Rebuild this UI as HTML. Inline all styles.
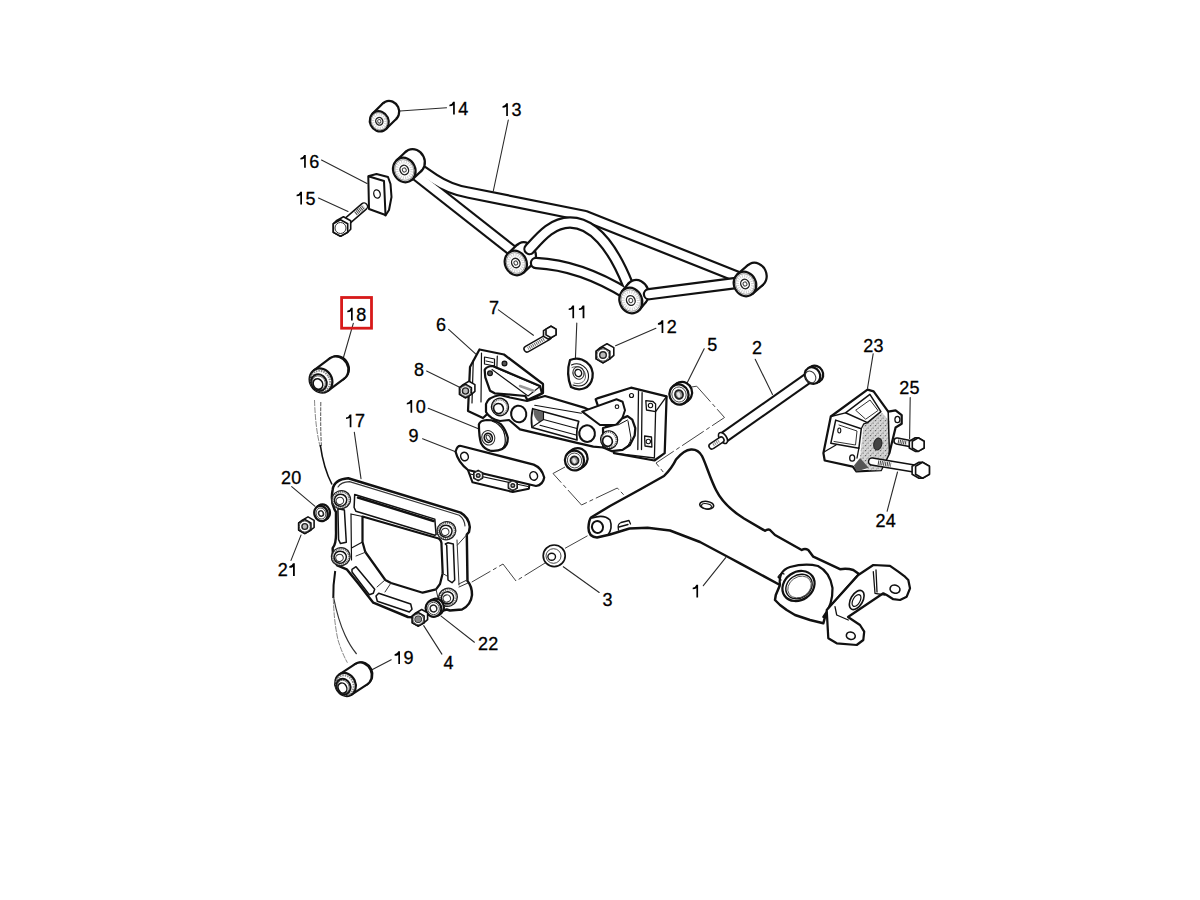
<!DOCTYPE html>
<html><head><meta charset="utf-8"><style>
html,body{margin:0;padding:0;background:#fff;}
svg{display:block;}
text{font-family:"Liberation Sans",sans-serif;font-size:18px;fill:#000;stroke:#000;stroke-width:0.3px;}
</style></head><body>
<svg width="1200" height="900" viewBox="0 0 1200 900">
<rect width="1200" height="900" fill="#fff"/>
<line x1="400" y1="111" x2="446.5" y2="107.8" stroke="#2a2a2a" stroke-width="1.1" stroke-linecap="round" />
<line x1="508.3" y1="120" x2="493.3" y2="191" stroke="#2a2a2a" stroke-width="1.1" stroke-linecap="round" />
<line x1="321.5" y1="160" x2="367" y2="183.5" stroke="#2a2a2a" stroke-width="1.1" stroke-linecap="round" />
<line x1="318.5" y1="198" x2="348" y2="211.5" stroke="#2a2a2a" stroke-width="1.1" stroke-linecap="round" />
<line x1="353.3" y1="323.3" x2="343.3" y2="358" stroke="#2a2a2a" stroke-width="1.1" stroke-linecap="round" />
<line x1="498.4" y1="309.9" x2="533.4" y2="335.3" stroke="#2a2a2a" stroke-width="1.1" stroke-linecap="round" />
<line x1="576.8" y1="323" x2="575.4" y2="359" stroke="#2a2a2a" stroke-width="1.1" stroke-linecap="round" />
<line x1="655.9" y1="328.3" x2="615.6" y2="345.8" stroke="#2a2a2a" stroke-width="1.1" stroke-linecap="round" />
<line x1="448.6" y1="329.4" x2="475.6" y2="353.9" stroke="#2a2a2a" stroke-width="1.1" stroke-linecap="round" />
<line x1="704.2" y1="348.7" x2="686.2" y2="384.7" stroke="#2a2a2a" stroke-width="1.1" stroke-linecap="round" />
<line x1="755.2" y1="359.2" x2="772.5" y2="394.5" stroke="#2a2a2a" stroke-width="1.1" stroke-linecap="round" />
<line x1="873.2" y1="353.7" x2="867.5" y2="388.3" stroke="#2a2a2a" stroke-width="1.1" stroke-linecap="round" />
<line x1="910.2" y1="397.5" x2="909.6" y2="438.5" stroke="#2a2a2a" stroke-width="1.1" stroke-linecap="round" />
<line x1="426.6" y1="371.1" x2="459.6" y2="387.2" stroke="#2a2a2a" stroke-width="1.1" stroke-linecap="round" />
<line x1="428.2" y1="408.2" x2="479" y2="429.1" stroke="#2a2a2a" stroke-width="1.1" stroke-linecap="round" />
<line x1="422.6" y1="438.8" x2="455.6" y2="451.7" stroke="#2a2a2a" stroke-width="1.1" stroke-linecap="round" />
<line x1="354.3" y1="432.2" x2="361" y2="478.6" stroke="#2a2a2a" stroke-width="1.1" stroke-linecap="round" />
<line x1="291.7" y1="486.7" x2="314.8" y2="506.2" stroke="#2a2a2a" stroke-width="1.1" stroke-linecap="round" />
<line x1="291" y1="560.4" x2="301" y2="535.1" stroke="#2a2a2a" stroke-width="1.1" stroke-linecap="round" />
<line x1="897.5" y1="472" x2="887.1" y2="511.3" stroke="#2a2a2a" stroke-width="1.1" stroke-linecap="round" />
<line x1="563.3" y1="566.7" x2="599.2" y2="592.5" stroke="#2a2a2a" stroke-width="1.1" stroke-linecap="round" />
<line x1="703.3" y1="585.7" x2="725.7" y2="557.7" stroke="#2a2a2a" stroke-width="1.1" stroke-linecap="round" />
<line x1="441.1" y1="616.1" x2="474.4" y2="642.2" stroke="#2a2a2a" stroke-width="1.1" stroke-linecap="round" />
<line x1="423.7" y1="625.6" x2="441.9" y2="654.1" stroke="#2a2a2a" stroke-width="1.1" stroke-linecap="round" />
<line x1="391.2" y1="659.7" x2="371.5" y2="670" stroke="#2a2a2a" stroke-width="1.1" stroke-linecap="round" />
<path d="M691.5 387 L696.7 386.2 L724.5 417.5 L656 463 L664 473" stroke="#444" stroke-width="1" fill="none" stroke-dasharray="26 3 4 3"/>
<path d="M565 467 L553 473.5 L581.5 505 L617.3 488 L625.3 496.5" stroke="#444" stroke-width="1" fill="none" stroke-dasharray="26 3 4 3"/>
<path d="M587.5 535.8 L565 548.3" stroke="#444" stroke-width="1" fill="none" stroke-dasharray="26 3 4 3"/>
<path d="M546.7 562 L516 581 L503 564 L471.7 582.1" stroke="#444" stroke-width="1" fill="none" stroke-dasharray="26 3 4 3"/>
<path d="M314.5 400 Q 315.5 430 320.5 448" stroke="#888" stroke-width="1" fill="none" stroke-dasharray="6 1"/>
<path d="M320.8 402 Q 320.3 430 321.5 447" stroke="#666" stroke-width="1.1" fill="none" stroke-dasharray="4 1"/>
<path d="M320.3 445 Q 323.5 468 332 484.5" stroke="#111" stroke-width="1.6" fill="none"/>
<path d="M335.2 571 Q 333 585 333.3 598" stroke="#111" stroke-width="2" fill="none"/>
<path d="M333.5 597 Q 338 620 345 635 Q 350 646 356.6 654" stroke="#333" stroke-width="1.2" fill="none"/>
<path d="M333.3 598 Q 334 622 338 640 Q 342 653 347.4 662.7" stroke="#888" stroke-width="1" fill="none" stroke-dasharray="6 1"/>
<path d="M412 164 L434 179 Q450 189.5 468 192.5 L585 216 L738 277" fill="none" stroke="#111" stroke-width="12.4" stroke-linecap="butt" stroke-linejoin="round"/>
<path d="M411 171 L514 252" fill="none" stroke="#111" stroke-width="12.4" stroke-linecap="butt" stroke-linejoin="round"/>
<path d="M412 164 L434 179 Q450 189.5 468 192.5 L585 216 L738 277" fill="none" stroke="#fff" stroke-width="8" stroke-linecap="butt" stroke-linejoin="round"/>
<path d="M411 171 L514 252" fill="none" stroke="#fff" stroke-width="8" stroke-linecap="butt" stroke-linejoin="round"/>
<ellipse cx="413.6" cy="161.3" rx="11" ry="12.5" fill="#fff" stroke="#111" stroke-width="2.24" transform="rotate(-25 413.6 161.3)" />
<polygon points="412.1,179.6 421.4,170.9 405.8,151.7 396.5,160.4" fill="#fff" stroke="none"/>
<path d="M412.1 179.6 L421.4 170.9 M396.5 160.4 L405.8 151.7" stroke="#111" stroke-width="2.2" stroke-linecap="round"/>
<ellipse cx="404.3" cy="170" rx="11" ry="12.5" fill="#fff" stroke="#111" stroke-width="2.24" transform="rotate(-25 404.3 170)" />
<ellipse cx="404.3" cy="170" rx="7.3" ry="8.2" fill="none" stroke="#cfcfcf" stroke-width="2.8600000000000003" transform="rotate(-25 404.3 170)" stroke-dasharray="1 1.3"/>
<ellipse cx="404.3" cy="170" rx="9.3" ry="10.6" fill="none" stroke="#777" stroke-width="0.7" transform="rotate(-25 404.3 170)" />
<ellipse cx="404.3" cy="170" rx="4.2" ry="4.8" fill="#fff" stroke="#222" stroke-width="1.4" transform="rotate(-25 404.3 170)" />
<ellipse cx="404.3" cy="170" rx="1.9" ry="2.1" fill="#fff" stroke="#444" stroke-width="1" transform="rotate(-25 404.3 170)" />
<ellipse cx="524.8" cy="254.5" rx="10.8" ry="12.5" fill="#fff" stroke="#111" stroke-width="2.24" transform="rotate(-25 524.8 254.5)" />
<polygon points="523.6,272.6 532.6,264.1 517,244.9 508,253.4" fill="#fff" stroke="none"/>
<path d="M523.6 272.6 L532.6 264.1 M508 253.4 L517 244.9" stroke="#111" stroke-width="2.2" stroke-linecap="round"/>
<ellipse cx="515.8" cy="263" rx="10.8" ry="12.5" fill="#fff" stroke="#111" stroke-width="2.24" transform="rotate(-25 515.8 263)" />
<ellipse cx="515.8" cy="263" rx="7.1" ry="8.2" fill="none" stroke="#cfcfcf" stroke-width="2.8080000000000003" transform="rotate(-25 515.8 263)" stroke-dasharray="1 1.3"/>
<ellipse cx="515.8" cy="263" rx="9.2" ry="10.6" fill="none" stroke="#777" stroke-width="0.7" transform="rotate(-25 515.8 263)" />
<ellipse cx="515.8" cy="263" rx="4.1" ry="4.8" fill="#fff" stroke="#222" stroke-width="1.4" transform="rotate(-25 515.8 263)" />
<ellipse cx="515.8" cy="263" rx="1.8" ry="2.1" fill="#fff" stroke="#444" stroke-width="1" transform="rotate(-25 515.8 263)" />
<path d="M529.5 249 C540 237.5, 552 222.5, 570 222.5 C592 222.5, 612 245, 628 285" fill="none" stroke="#111" stroke-width="12.4" stroke-linecap="round" stroke-linejoin="round"/>
<path d="M536 263 Q580 265 627 294" fill="none" stroke="#111" stroke-width="12.4" stroke-linecap="round" stroke-linejoin="round"/>
<path d="M529.5 249 C540 237.5, 552 222.5, 570 222.5 C592 222.5, 612 245, 628 285" fill="none" stroke="#fff" stroke-width="8" stroke-linecap="round" stroke-linejoin="round"/>
<path d="M536 263 Q580 265 627 294" fill="none" stroke="#fff" stroke-width="8" stroke-linecap="round" stroke-linejoin="round"/>
<ellipse cx="637.3" cy="292.7" rx="11.2" ry="13" fill="#fff" stroke="#111" stroke-width="2.24" transform="rotate(-22 637.3 292.7)" />
<polygon points="639.6,309.7 646.1,301.9 628.5,283.5 622,291.3" fill="#fff" stroke="none"/>
<path d="M639.6 309.7 L646.1 301.9 M622 291.3 L628.5 283.5" stroke="#111" stroke-width="2.2" stroke-linecap="round"/>
<ellipse cx="630.8" cy="300.5" rx="11.2" ry="13" fill="#fff" stroke="#111" stroke-width="2.24" transform="rotate(-22 630.8 300.5)" />
<ellipse cx="630.8" cy="300.5" rx="7.4" ry="8.6" fill="none" stroke="#cfcfcf" stroke-width="2.912" transform="rotate(-22 630.8 300.5)" stroke-dasharray="1 1.3"/>
<ellipse cx="630.8" cy="300.5" rx="9.5" ry="11" fill="none" stroke="#777" stroke-width="0.7" transform="rotate(-22 630.8 300.5)" />
<ellipse cx="630.8" cy="300.5" rx="4.3" ry="4.9" fill="#fff" stroke="#222" stroke-width="1.4" transform="rotate(-22 630.8 300.5)" />
<ellipse cx="630.8" cy="300.5" rx="1.9" ry="2.2" fill="#fff" stroke="#444" stroke-width="1" transform="rotate(-22 630.8 300.5)" />
<path d="M649 294.2 L740 282.5" fill="none" stroke="#111" stroke-width="12.4" stroke-linecap="round" stroke-linejoin="round"/>
<path d="M649 294.2 L740 282.5" fill="none" stroke="#fff" stroke-width="8" stroke-linecap="round" stroke-linejoin="round"/>
<ellipse cx="755.4" cy="275" rx="11" ry="12.5" fill="#fff" stroke="#111" stroke-width="2.24" transform="rotate(-25 755.4 275)" />
<polygon points="752.5,293.9 762.9,284.9 747.9,265.1 737.5,274.1" fill="#fff" stroke="none"/>
<path d="M752.5 293.9 L762.9 284.9 M737.5 274.1 L747.9 265.1" stroke="#111" stroke-width="2.2" stroke-linecap="round"/>
<ellipse cx="745" cy="284" rx="11" ry="12.5" fill="#fff" stroke="#111" stroke-width="2.24" transform="rotate(-25 745 284)" />
<ellipse cx="745" cy="284" rx="7.3" ry="8.2" fill="none" stroke="#cfcfcf" stroke-width="2.8600000000000003" transform="rotate(-25 745 284)" stroke-dasharray="1 1.3"/>
<ellipse cx="745" cy="284" rx="9.3" ry="10.6" fill="none" stroke="#777" stroke-width="0.7" transform="rotate(-25 745 284)" />
<ellipse cx="745" cy="284" rx="4.2" ry="4.8" fill="#fff" stroke="#222" stroke-width="1.4" transform="rotate(-25 745 284)" />
<ellipse cx="745" cy="284" rx="1.9" ry="2.1" fill="#fff" stroke="#444" stroke-width="1" transform="rotate(-25 745 284)" />
<ellipse cx="389.7" cy="111" rx="9.3" ry="10.3" fill="#fff" stroke="#111" stroke-width="2.24" transform="rotate(-25 389.7 111)" />
<polygon points="386,129 396.4,118.7 383,103.3 372.6,113.6" fill="#fff" stroke="none"/>
<path d="M386 129 L396.4 118.7 M372.6 113.6 L383 103.3" stroke="#111" stroke-width="2.2" stroke-linecap="round"/>
<ellipse cx="379.3" cy="121.3" rx="9.3" ry="10.3" fill="#fff" stroke="#111" stroke-width="2.24" transform="rotate(-25 379.3 121.3)" />
<ellipse cx="379.3" cy="121.3" rx="6.1" ry="6.8" fill="none" stroke="#cfcfcf" stroke-width="2.418" transform="rotate(-25 379.3 121.3)" stroke-dasharray="1 1.3"/>
<ellipse cx="379.3" cy="121.3" rx="7.9" ry="8.8" fill="none" stroke="#777" stroke-width="0.7" transform="rotate(-25 379.3 121.3)" />
<ellipse cx="379.3" cy="121.3" rx="3.5" ry="3.9" fill="#fff" stroke="#222" stroke-width="1.4" transform="rotate(-25 379.3 121.3)" />
<ellipse cx="379.3" cy="121.3" rx="1.6" ry="1.8" fill="#fff" stroke="#444" stroke-width="1" transform="rotate(-25 379.3 121.3)" />
<path d="M369 176 L376.5 174 L388 177 L390.5 184 L391.5 197 L389 210 L385.5 215.5 Z" fill="#fff" stroke="#111" stroke-width="2.0160000000000005" stroke-linejoin="round" stroke-linecap="round" />
<path d="M368.3 176.2 L384 181 L385.5 215 L369 209 Z" fill="#fff" stroke="#111" stroke-width="2.0160000000000005" stroke-linejoin="round" stroke-linecap="round" />
<ellipse cx="377" cy="194" rx="3.2" ry="4.2" fill="#fff" stroke="#111" stroke-width="1.3" transform="rotate(-15 377 194)" />
<path d="M345 223 L364 206.5" stroke="#111" stroke-width="8.5" stroke-linecap="round"/>
<path d="M345 223 L364 206.5" stroke="#fff" stroke-width="5.5" stroke-linecap="round"/>
<path d="M355.5 213.5 L364 206.5" stroke="#444" stroke-width="4.5" stroke-dasharray="1 0.8"/>
<polygon points="333.3,223.8 336.3,220.8 343.5,216.7 350.7,220.8 350.7,229.2 347.7,232.2 340.5,236.3 333.3,232.2" fill="#fff" stroke="#111" stroke-width="1.6" stroke-linejoin="round"/>
<polygon points="347.7,232.2 340.5,236.3 333.3,232.2 333.3,223.8 340.5,219.7 347.7,223.8" fill="#fff" stroke="#111" stroke-width="1.6" stroke-linejoin="round"/>
<ellipse cx="340.5" cy="228" rx="5.5" ry="5.5" fill="none" stroke="#333" stroke-width="1" />
<ellipse cx="338.2" cy="367.7" rx="10.4" ry="11.9" fill="#fff" stroke="#111" stroke-width="2.0160000000000005" transform="rotate(-30 338.2 367.7)" />
<ellipse cx="337" cy="368.5" rx="11" ry="12.5" fill="#fff" stroke="#111" stroke-width="2.24" transform="rotate(-30 337 368.5)" />
<polygon points="328.2,390.7 344.2,378.7 329.8,358.3 313.8,370.3" fill="#fff" stroke="none"/>
<path d="M328.2 390.7 L344.2 378.7 M313.8 370.3 L329.8 358.3" stroke="#111" stroke-width="2.2" stroke-linecap="round"/>
<ellipse cx="321" cy="380.5" rx="11" ry="12.5" fill="#fff" stroke="#111" stroke-width="2.24" transform="rotate(-30 321 380.5)" />
<ellipse cx="320.5" cy="381" rx="9.3" ry="10.6" fill="none" stroke="#888" stroke-width="2.2" transform="rotate(-30 320.5 381)" stroke-dasharray="1.5 1"/>
<ellipse cx="319" cy="382.5" rx="7.5" ry="8.5" fill="#fff" stroke="#111" stroke-width="2.0160000000000005" transform="rotate(-30 319 382.5)" />
<ellipse cx="318.7" cy="382.9" rx="6.4" ry="7.2" fill="none" stroke="#555" stroke-width="0.8" transform="rotate(-30 318.7 382.9)" />
<ellipse cx="318" cy="384" rx="4.6" ry="5.5" fill="#fff" stroke="#111" stroke-width="1.5" transform="rotate(-30 318 384)" />
<ellipse cx="362.7" cy="673.2" rx="9.5" ry="11.2" fill="#fff" stroke="#111" stroke-width="2.0160000000000005" transform="rotate(-25 362.7 673.2)" />
<ellipse cx="361.5" cy="674" rx="10" ry="11.8" fill="#fff" stroke="#111" stroke-width="2.24" transform="rotate(-25 361.5 674)" />
<polygon points="351.6,694.6 367.6,684.1 355.4,663.9 339.4,674.4" fill="#fff" stroke="none"/>
<path d="M351.6 694.6 L367.6 684.1 M339.4 674.4 L355.4 663.9" stroke="#111" stroke-width="2.2" stroke-linecap="round"/>
<ellipse cx="345.5" cy="684.5" rx="10" ry="11.8" fill="#fff" stroke="#111" stroke-width="2.24" transform="rotate(-25 345.5 684.5)" />
<ellipse cx="345" cy="685" rx="8.5" ry="10" fill="none" stroke="#888" stroke-width="2.2" transform="rotate(-25 345 685)" stroke-dasharray="1.5 1"/>
<ellipse cx="343.5" cy="686.5" rx="6.8" ry="8" fill="#fff" stroke="#111" stroke-width="2.0160000000000005" transform="rotate(-25 343.5 686.5)" />
<ellipse cx="343.2" cy="686.9" rx="5.8" ry="6.8" fill="none" stroke="#555" stroke-width="0.8" transform="rotate(-25 343.2 686.9)" />
<ellipse cx="342.5" cy="688" rx="4.2" ry="5.2" fill="#fff" stroke="#111" stroke-width="1.5" transform="rotate(-25 342.5 688)" />
<rect x="341.6" y="297.5" width="29.9" height="30.7" fill="none" stroke="#d71a1a" stroke-width="2.8"/>
<path d="M332.7 489.4 Q334 479.5 348.2 478.2 L460.6 512.6 Q469 517.5 469.8 527 L469 532 L466.8 534.5 L467.5 581 Q472 586 472 595 Q471 605 462 609.5 L450 610.5 L446.7 609.5 L418 617.5 L408 617 L373.3 602.7 L368 596 L358.7 584 L346.7 569.3 L337.3 565.3 Q332.5 560 332.7 548 Q336.5 544 336 530 L336 512 Q330 503 332.7 489.4 Z" fill="#fff" stroke="#111" stroke-width="2.4640000000000004" stroke-linejoin="round" stroke-linecap="round" />
<path d="M338 487 Q341 482 349.5 481.6 L459.3 515.2 Q464.5 519 465 526" fill="none" stroke="#333" stroke-width="1.1" stroke-linejoin="round" stroke-linecap="round" />
<path d="M457 540 L459 585 M457.5 545 L466.5 535 M458.8 584 L467 580 M459 587 L468 583" fill="none" stroke="#333" stroke-width="1" stroke-linejoin="round" stroke-linecap="round" />
<path d="M362.5 516.5 L438.7 538.5 Q441.8 540.5 441.5 545 L442.7 573.3 L440 584 L436 589.3 L422.7 592.7 L391 583 L385.3 580 L365.3 552 L362.5 542 Z" fill="#fff" stroke="#111" stroke-width="2.24" stroke-linejoin="round" stroke-linecap="round" />
<path d="M350.8 514 L362.5 516.5 M351 514 L351.5 560 M362.5 542 L351.5 548" fill="none" stroke="#111" stroke-width="1.2" stroke-linejoin="round" stroke-linecap="round" />
<path d="M366 552 L356 556 M385 580 L377 587 M391 583 L385 592 M436 589 L438 598 M442 573 L447 576" fill="none" stroke="#333" stroke-width="1" stroke-linejoin="round" stroke-linecap="round" />
<path d="M354.7 494.5 L434.8 519.1 L436.1 534.6 L434.8 535.2 L356 511.3 L354.1 507.5 Z" fill="#fff" stroke="#111" stroke-width="1.5" stroke-linejoin="round" stroke-linecap="round" />
<path d="M337.9 508.7 L344.4 510 L346.3 542.3 L340.5 543.6 L338.6 539.7 Z" fill="#fff" stroke="#111" stroke-width="1.5" stroke-linejoin="round" stroke-linecap="round" />
<path d="M445.3 544 L448 542.7 L453.3 544 L454.7 580 L452 582.7 L448 580 L446.7 545.3 Z" fill="#fff" stroke="#111" stroke-width="1.5" stroke-linejoin="round" stroke-linecap="round" />
<path d="M352 569.3 L356 566.7 L374.7 589.3 L373.3 593.3 L369.3 594.7 L352 572 Z" fill="#fff" stroke="#111" stroke-width="1.5" stroke-linejoin="round" stroke-linecap="round" />
<path d="M376 596 L378.7 593.3 L410.7 604 L412 609.3 L409.3 612 L377.3 601.3 Z" fill="#fff" stroke="#111" stroke-width="1.5" stroke-linejoin="round" stroke-linecap="round" />
<path d="M358 497.5 L433.5 521" fill="none" stroke="#111" stroke-width="2.4640000000000004" stroke-linejoin="round" stroke-linecap="round" />
<ellipse cx="341.1" cy="499.7" rx="8.5" ry="8" fill="#fff" stroke="#777" stroke-width="2.4" transform="rotate(-20 341.1 499.7)" stroke-dasharray="1.2 0.8"/>
<ellipse cx="341.1" cy="499.7" rx="9.5" ry="9" fill="none" stroke="#222" stroke-width="1.2" transform="rotate(-20 341.1 499.7)" />
<ellipse cx="340.6" cy="500.2" rx="6.2" ry="6" fill="#fff" stroke="#111" stroke-width="1.5" transform="rotate(-20 340.6 500.2)" />
<ellipse cx="339.9" cy="500.9" rx="3.8" ry="3.6" fill="#fff" stroke="#333" stroke-width="1.1" transform="rotate(-20 339.9 500.9)" />
<ellipse cx="446.4" cy="530.7" rx="8.5" ry="8" fill="#fff" stroke="#777" stroke-width="2.4" transform="rotate(-20 446.4 530.7)" stroke-dasharray="1.2 0.8"/>
<ellipse cx="446.4" cy="530.7" rx="9.5" ry="9" fill="none" stroke="#222" stroke-width="1.2" transform="rotate(-20 446.4 530.7)" />
<ellipse cx="445.9" cy="531.2" rx="6.2" ry="6" fill="#fff" stroke="#111" stroke-width="1.5" transform="rotate(-20 445.9 531.2)" />
<ellipse cx="445.2" cy="531.9" rx="3.8" ry="3.6" fill="#fff" stroke="#333" stroke-width="1.1" transform="rotate(-20 445.2 531.9)" />
<ellipse cx="340.7" cy="556.7" rx="8.5" ry="8" fill="#fff" stroke="#777" stroke-width="2.4" transform="rotate(-20 340.7 556.7)" stroke-dasharray="1.2 0.8"/>
<ellipse cx="340.7" cy="556.7" rx="9.5" ry="9" fill="none" stroke="#222" stroke-width="1.2" transform="rotate(-20 340.7 556.7)" />
<ellipse cx="340.2" cy="557.2" rx="6.2" ry="6" fill="#fff" stroke="#111" stroke-width="1.5" transform="rotate(-20 340.2 557.2)" />
<ellipse cx="339.5" cy="557.9" rx="3.8" ry="3.6" fill="#fff" stroke="#333" stroke-width="1.1" transform="rotate(-20 339.5 557.9)" />
<ellipse cx="448" cy="597.3" rx="8.5" ry="8" fill="#fff" stroke="#777" stroke-width="2.4" transform="rotate(-20 448 597.3)" stroke-dasharray="1.2 0.8"/>
<ellipse cx="448" cy="597.3" rx="9.5" ry="9" fill="none" stroke="#222" stroke-width="1.2" transform="rotate(-20 448 597.3)" />
<ellipse cx="447.5" cy="597.8" rx="6.2" ry="6" fill="#fff" stroke="#111" stroke-width="1.5" transform="rotate(-20 447.5 597.8)" />
<ellipse cx="446.8" cy="598.5" rx="3.8" ry="3.6" fill="#fff" stroke="#333" stroke-width="1.1" transform="rotate(-20 446.8 598.5)" />
<path d="M591 517.5 L610 506 L640 489.5 L664 476 Q672 468 676 459.5 Q684 450 691 449.5 Q698 449 702 456 C706 464, 710 478, 716 490 C722 502, 732 511, 744 518.5 L765 530.8 Q768 528.5 770 530 L775 535 L801.7 550 Q805 548 808.3 550 L813.3 556.7 L840 569.2 Q847 568 853.3 570 L859 574 L827 610 L823.3 623.3 L810 620 L795 615 L786.7 610 L780 605 L775 600 L775.8 595 L780 585 L740 563.3 L730 558 L700 542 L670 530.5 L647.5 527.8 L629.5 528.5 L610 534.5 L597 537.5 Q588 537 588.5 527 Q589 520 591 517.5 Z" fill="#fff" stroke="#111" stroke-width="2.4640000000000004" stroke-linejoin="round" stroke-linecap="round" />
<ellipse cx="597.5" cy="527" rx="5.5" ry="6" fill="#fff" stroke="#111" stroke-width="2.0160000000000005" transform="rotate(-20 597.5 527)" />
<path d="M592 518 Q604 514 610 520 Q613 528 608 535" fill="none" stroke="#111" stroke-width="1.6" stroke-linejoin="round" stroke-linecap="round" />
<path d="M618.5 530 Q617 524 621 522.5 L629 520.5 L630.5 524 M619 527 L628 524.5" fill="none" stroke="#111" stroke-width="1.3" stroke-linejoin="round" stroke-linecap="round" />
<ellipse cx="706.7" cy="505.2" rx="7" ry="3.8" fill="#fff" stroke="#111" stroke-width="1.6" transform="rotate(8 706.7 505.2)" />
<ellipse cx="706.5" cy="506.2" rx="5" ry="2.5" fill="#fff" stroke="#111" stroke-width="1.1" transform="rotate(8 706.5 506.2)" />
<path d="M780 585 Q778 571 790 567 Q805 563 818 566 Q830 572 832.5 588 Q833 605 823.3 617" fill="#fff" stroke="#111" stroke-width="2.24" stroke-linejoin="round" stroke-linecap="round" />
<ellipse cx="798.5" cy="586" rx="17" ry="14" fill="#fff" stroke="#111" stroke-width="2.24" transform="rotate(-35 798.5 586)" />
<ellipse cx="799" cy="586.5" rx="14" ry="11.3" fill="#fff" stroke="#111" stroke-width="1.4" transform="rotate(-35 799 586.5)" />
<ellipse cx="799.5" cy="587" rx="12.5" ry="10" fill="none" stroke="#555" stroke-width="0.9" transform="rotate(-35 799.5 587)" />
<path d="M781 580 L778 577 Q781 572 784 574" fill="none" stroke="#111" stroke-width="1.3" stroke-linejoin="round" stroke-linecap="round" />
<path d="M858.3 575 L873.3 565 L890 565.8 L898.3 571.7 L905 576.7 L908.3 580 L910 588.3 L906.7 596.7 L900 600 L893.3 599.2 L886.7 595 L883.3 593.3 L848 617 L860 625 L864.2 631.7 L863.3 640 L856.7 645 L836.7 643.3 L828.3 638.3 L826.7 610 Z" fill="#fff" stroke="#111" stroke-width="2.24" stroke-linejoin="round" stroke-linecap="round" />
<path d="M873.3 571.7 L875 593.3 L885 595 M835 606.7 L836.7 615 L848.3 620 M826.7 610 L858.3 575 M876 570 L877 592" fill="none" stroke="#111" stroke-width="1.3" stroke-linejoin="round" stroke-linecap="round" />
<ellipse cx="895" cy="589.2" rx="5" ry="4" fill="#fff" stroke="#111" stroke-width="1.6" transform="rotate(15 895 589.2)" />
<ellipse cx="850.8" cy="635.8" rx="4.5" ry="3.6" fill="#fff" stroke="#111" stroke-width="1.6" transform="rotate(15 850.8 635.8)" />
<ellipse cx="856.7" cy="600" rx="6" ry="10.5" fill="#fff" stroke="#111" stroke-width="1.6" transform="rotate(30 856.7 600)" />
<ellipse cx="856.5" cy="600.5" rx="3.5" ry="6.5" fill="#fff" stroke="#111" stroke-width="1.2" transform="rotate(30 856.5 600.5)" />
<ellipse cx="554.2" cy="555.8" rx="11" ry="10.8" fill="#fff" stroke="#111" stroke-width="1.7" />
<ellipse cx="553.5" cy="556" rx="7.5" ry="7.3" fill="none" stroke="#333" stroke-width="0.9" />
<ellipse cx="551.7" cy="556.7" rx="3.8" ry="3.5" fill="#fff" stroke="#111" stroke-width="1.4" />
<ellipse cx="323.2" cy="512" rx="6.6" ry="7.8" fill="#fff" stroke="#111" stroke-width="2.24" transform="rotate(-20 323.2 512)" />
<polygon points="324.9,520.2 327.1,518.7 319.3,505.3 317.1,506.8" fill="#fff" stroke="none"/>
<path d="M324.9 520.2 L327.1 518.7 M317.1 506.8 L319.3 505.3" stroke="#111" stroke-width="2.2" stroke-linecap="round"/>
<ellipse cx="321" cy="513.5" rx="6.6" ry="7.8" fill="#fff" stroke="#111" stroke-width="2.24" transform="rotate(-20 321 513.5)" />
<ellipse cx="321" cy="513.5" rx="4.8" ry="5.6" fill="none" stroke="#444" stroke-width="0.9" transform="rotate(-20 321 513.5)" />
<ellipse cx="321" cy="513.5" rx="2.4" ry="2.8" fill="#fff" stroke="#222" stroke-width="1.5" transform="rotate(-20 321 513.5)" />
<polygon points="298.7,523 301.9,520.4 308,516.9 314.1,520.4 314.1,527.4 310.9,530 304.8,533.5 298.7,530" fill="#fff" stroke="#111" stroke-width="1.6" stroke-linejoin="round"/>
<polygon points="310.9,530 304.8,533.5 298.7,530 298.7,523 304.8,519.5 310.9,523" fill="#fff" stroke="#111" stroke-width="1.6" stroke-linejoin="round"/>
<ellipse cx="304.8" cy="526.5" rx="5.5" ry="5.5" fill="none" stroke="#444" stroke-width="0.9" />
<ellipse cx="304.8" cy="526.5" rx="2.9" ry="2.9" fill="#bbb" stroke="#222" stroke-width="1.4" />
<ellipse cx="436" cy="607" rx="7.8" ry="8.3" fill="#fff" stroke="#111" stroke-width="2.24" transform="rotate(-20 436 607)" />
<polygon points="437.6,615.7 440.1,614.2 431.9,599.8 429.4,601.3" fill="#fff" stroke="none"/>
<path d="M437.6 615.7 L440.1 614.2 M429.4 601.3 L431.9 599.8" stroke="#111" stroke-width="2.2" stroke-linecap="round"/>
<ellipse cx="433.5" cy="608.5" rx="7.8" ry="8.3" fill="#fff" stroke="#111" stroke-width="2.24" transform="rotate(-20 433.5 608.5)" />
<ellipse cx="433.5" cy="608.5" rx="5.8" ry="6.2" fill="none" stroke="#444" stroke-width="0.9" transform="rotate(-20 433.5 608.5)" />
<ellipse cx="433.5" cy="608.5" rx="3.3" ry="3.5" fill="#fff" stroke="#222" stroke-width="1.5" transform="rotate(-20 433.5 608.5)" />
<polygon points="412.3,615.9 415.8,612.9 421.7,609.5 427.6,612.9 427.6,619.7 424.1,622.7 418.2,626.1 412.3,622.7" fill="#fff" stroke="#111" stroke-width="1.6" stroke-linejoin="round"/>
<polygon points="424.1,622.7 418.2,626.1 412.3,622.7 412.3,615.9 418.2,612.5 424.1,615.9" fill="#fff" stroke="#111" stroke-width="1.6" stroke-linejoin="round"/>
<ellipse cx="418.2" cy="619.3" rx="5.3" ry="5.3" fill="none" stroke="#444" stroke-width="0.9" />
<ellipse cx="418.2" cy="619.3" rx="3.1" ry="3.1" fill="#bbb" stroke="#222" stroke-width="1.4" />
<circle cx="418.2" cy="619.3" r="3" fill="#888"/>
<ellipse cx="682.5" cy="392" rx="9.5" ry="10.2" fill="#fff" stroke="#111" stroke-width="2.24" transform="rotate(-20 682.5 392)" />
<polygon points="684.6,403 688.1,400.5 676.9,383.5 673.4,386" fill="#fff" stroke="none"/>
<path d="M684.6 403 L688.1 400.5 M673.4 386 L676.9 383.5" stroke="#111" stroke-width="2.2" stroke-linecap="round"/>
<ellipse cx="679" cy="394.5" rx="9.5" ry="10.2" fill="#fff" stroke="#111" stroke-width="2.24" transform="rotate(-20 679 394.5)" />
<ellipse cx="679" cy="394.5" rx="7.1" ry="7.6" fill="none" stroke="#444" stroke-width="0.9" transform="rotate(-20 679 394.5)" />
<ellipse cx="679" cy="394.5" rx="4" ry="4.3" fill="#999" stroke="#222" stroke-width="1.8" transform="rotate(-20 679 394.5)" />
<ellipse cx="678.7" cy="394.8" rx="1.6" ry="2.8" fill="#e8e8e8" stroke="none" stroke-width="0" transform="rotate(-20 678.7 394.8)" />
<ellipse cx="578" cy="458" rx="9.5" ry="10" fill="#fff" stroke="#111" stroke-width="2.24" transform="rotate(-20 578 458)" />
<polygon points="580.1,468.8 583.6,466.3 572.4,449.7 568.9,452.2" fill="#fff" stroke="none"/>
<path d="M580.1 468.8 L583.6 466.3 M568.9 452.2 L572.4 449.7" stroke="#111" stroke-width="2.2" stroke-linecap="round"/>
<ellipse cx="574.5" cy="460.5" rx="9.5" ry="10" fill="#fff" stroke="#111" stroke-width="2.24" transform="rotate(-20 574.5 460.5)" />
<ellipse cx="574.5" cy="460.5" rx="7.1" ry="7.5" fill="none" stroke="#444" stroke-width="0.9" transform="rotate(-20 574.5 460.5)" />
<ellipse cx="574.5" cy="460.5" rx="4" ry="4.2" fill="#999" stroke="#222" stroke-width="1.8" transform="rotate(-20 574.5 460.5)" />
<ellipse cx="574.2" cy="460.8" rx="1.6" ry="2.7" fill="#e8e8e8" stroke="none" stroke-width="0" transform="rotate(-20 574.2 460.8)" />
<polygon points="596.2,351.1 600.2,347.6 607,343.7 613.8,347.6 613.8,355.4 609.8,358.9 603,362.8 596.2,358.9" fill="#fff" stroke="#111" stroke-width="1.6" stroke-linejoin="round"/>
<polygon points="609.8,358.9 603,362.8 596.2,358.9 596.2,351.1 603,347.2 609.8,351.1" fill="#fff" stroke="#111" stroke-width="1.6" stroke-linejoin="round"/>
<ellipse cx="603" cy="355" rx="6.1" ry="6.1" fill="none" stroke="#444" stroke-width="0.9" />
<ellipse cx="603" cy="355" rx="3.3" ry="3.3" fill="#bbb" stroke="#222" stroke-width="1.4" />
<path d="M570 360 C582 355, 594.5 365, 592.5 377.5 C590.5 388.5, 580 392, 571 387 C567.5 378, 567.5 368, 570 360 Z" fill="#fff" stroke="#111" stroke-width="2.24" stroke-linejoin="round" stroke-linecap="round" />
<path d="M571.5 365 C580 361, 589 368, 588.5 377 C588 384, 582 388, 573 385" fill="none" stroke="#111" stroke-width="1.1" stroke-linejoin="round" stroke-linecap="round" />
<path d="M572 367.5 C579 364, 586 370, 585.5 377 C585 382, 580 385, 574 383" fill="none" stroke="#555" stroke-width="0.9" stroke-linejoin="round" stroke-linecap="round" />
<ellipse cx="578.5" cy="373" rx="5.5" ry="6.3" fill="none" stroke="#333" stroke-width="1.1" transform="rotate(-20 578.5 373)" />
<ellipse cx="578.3" cy="373" rx="3.3" ry="3.7" fill="#fff" stroke="#111" stroke-width="1.4" transform="rotate(-20 578.3 373)" />
<path d="M548 337 L527 349" stroke="#111" stroke-width="7.5" stroke-linecap="round"/>
<path d="M548 337 L527 349" stroke="#fff" stroke-width="4.5" stroke-linecap="round"/>
<path d="M544 339 L528 348.5" stroke="#666" stroke-width="3.2" stroke-dasharray="1 1"/>
<polygon points="543.5,330.6 546,329.1 551,326.2 556,329.1 556,334.9 553.5,336.4 548.5,339.3 543.5,336.4" fill="#fff" stroke="#111" stroke-width="1.6" stroke-linejoin="round"/>
<polygon points="556,334.9 551,337.8 546,334.9 546,329.1 551,326.2 556,329.1" fill="#fff" stroke="#111" stroke-width="1.6" stroke-linejoin="round"/>
<path d="M472.5 482.3 L512.8 492 L528.9 488.7 L530 480 L467.7 469.4 Z" fill="#fff" stroke="#111" stroke-width="2.0160000000000005" stroke-linejoin="round" stroke-linecap="round" />
<path d="M455.6 451.7 Q457 445 461.2 446 L533.7 464.6 Q541.8 467.8 544.2 477.5 Q543 485 536 486 L468 470 Q458 462 455.6 451.7 Z" fill="#fff" stroke="#111" stroke-width="2.24" stroke-linejoin="round" stroke-linecap="round" />
<path d="M470 474 L528 486.5" fill="none" stroke="#111" stroke-width="1.1" stroke-linejoin="round" stroke-linecap="round" />
<ellipse cx="464.5" cy="456.5" rx="3.8" ry="4.3" fill="#fff" stroke="#111" stroke-width="1.5" transform="rotate(-20 464.5 456.5)" />
<ellipse cx="533.7" cy="475.9" rx="3.8" ry="4.3" fill="#fff" stroke="#111" stroke-width="1.5" transform="rotate(-20 533.7 475.9)" />
<polygon points="482.7,478.1 478.2,480.7 473.7,478.1 473.7,472.9 478.2,470.3 482.7,472.9" fill="#fff" stroke="#111" stroke-width="1.4" stroke-linejoin="round"/>
<ellipse cx="478.2" cy="475.5" rx="4.1" ry="4.1" fill="none" stroke="#444" stroke-width="0.9" />
<ellipse cx="478.2" cy="475.5" rx="1.8" ry="1.8" fill="#bbb" stroke="#222" stroke-width="1.4" />
<polygon points="517.3,488.1 512.8,490.7 508.3,488.1 508.3,482.9 512.8,480.3 517.3,482.9" fill="#fff" stroke="#111" stroke-width="1.4" stroke-linejoin="round"/>
<ellipse cx="512.8" cy="485.5" rx="4.1" ry="4.1" fill="none" stroke="#444" stroke-width="0.9" />
<ellipse cx="512.8" cy="485.5" rx="1.8" ry="1.8" fill="#bbb" stroke="#222" stroke-width="1.4" />
<path d="M478.9 424.4 Q480 420.5 486.7 420 Q496 420 501.1 424.4 Q506 430 507.8 437.8 Q508 446 502.2 448.9 Q497 451.5 490 450.6 Q484 449 481.1 443.3 Q479 437 478.9 424.4 Z" fill="#fff" stroke="#111" stroke-width="2.24" stroke-linejoin="round" stroke-linecap="round" />
<path d="M492.5 421.2 Q500 424 503.5 431 Q506 438 505 444 Q504 447.5 501 449.5" fill="none" stroke="#111" stroke-width="1.2" stroke-linejoin="round" stroke-linecap="round" />
<ellipse cx="488.3" cy="437.8" rx="6.5" ry="7.3" fill="none" stroke="#333" stroke-width="1.1" transform="rotate(-20 488.3 437.8)" />
<ellipse cx="488.3" cy="437.8" rx="4" ry="4.6" fill="#fff" stroke="#111" stroke-width="1.6" transform="rotate(-20 488.3 437.8)" />
<ellipse cx="488.3" cy="437.8" rx="1.8" ry="3" fill="#fff" stroke="#333" stroke-width="1.1" transform="rotate(-30 488.3 437.8)" />
<path d="M479.5 349.5 L504 354.5 L543 384 L543 393 L528 401 L497 405 L483 418 L468 411 L470 367 Z" fill="#fff" stroke="#111" stroke-width="2.24" stroke-linejoin="round" stroke-linecap="round" />
<path d="M473.3 360 L472 403 M481.5 353 L481 402 M497.3 356 L496 392" fill="none" stroke="#111" stroke-width="1.2" stroke-linejoin="round" stroke-linecap="round" />
<path d="M484.5 357 L494.5 359 L494.5 366 L484.5 364 Z" fill="none" stroke="#111" stroke-width="1.2" stroke-linejoin="round" stroke-linecap="round" />
<path d="M486 361 L493 362.5" fill="none" stroke="#111" stroke-width="1" stroke-linejoin="round" stroke-linecap="round" />
<path d="M484.7 370 Q486 366.5 492.7 366 L540 386 L542 393.3 L527.3 400 L525.3 396 L494.7 393.3 L490 390.7 L485.3 377.3 Z" fill="#fff" stroke="#111" stroke-width="2.24" stroke-linejoin="round" stroke-linecap="round" />
<path d="M492 369.5 L528 396 M494 367 L540 386.5 L528 396" fill="none" stroke="#111" stroke-width="1.1" stroke-linejoin="round" stroke-linecap="round" />
<ellipse cx="490" cy="373.3" rx="2.4" ry="2.4" fill="#555" stroke="#111" stroke-width="1.2" />
<ellipse cx="504.5" cy="363.5" rx="2.4" ry="2.4" fill="#555" stroke="#111" stroke-width="1.2" />
<path d="M520 386 L534 391" fill="none" stroke="#999" stroke-width="2.4640000000000004" stroke-linejoin="round" stroke-linecap="round" />
<path d="M595.7 399.3 L598.1 398.1 L631 387.7 L666.6 396.3 L664.7 453.1 L654.4 460.5 L614 453.1 Z" fill="#fff" stroke="#111" stroke-width="2.24" stroke-linejoin="round" stroke-linecap="round" />
<path d="M638.5 390.8 L637.8 449.5 M642.1 392.6 L641.5 449.5 M666.6 396.3 L655.6 411.6 L654.4 458 M614 453.1 L654.4 458" fill="none" stroke="#111" stroke-width="1.3" stroke-linejoin="round" stroke-linecap="round" />
<path d="M645.8 400.6 L653 401.5 L655.6 404 L655.6 411.6 L646.5 410 Z M644.6 436 L651.5 437 L651.9 447 L645 446 Z" fill="none" stroke="#111" stroke-width="1.3" stroke-linejoin="round" stroke-linecap="round" />
<ellipse cx="650.5" cy="405.5" rx="2.2" ry="2.2" fill="#fff" stroke="#111" stroke-width="1.1" />
<ellipse cx="648.3" cy="441.5" rx="2.2" ry="2.2" fill="#fff" stroke="#111" stroke-width="1.1" />
<ellipse cx="631.5" cy="395.5" rx="2" ry="2" fill="#fff" stroke="#111" stroke-width="1.2" />
<path d="M486 404 Q488 397 500 395 L510 397.5 L527 401 L545 396 L584 407.6 L606 418 L606 446 L603.3 447.5 L593.3 446.7 L577 442.8 L555 437.6 L520 429.3 L509 420 L500 421 Q490 419 486 412 Z" fill="#fff" stroke="#111" stroke-width="2.24" stroke-linejoin="round" stroke-linecap="round" />
<path d="M532.7 408.7 L578.7 421.3 Q576 431 577 440 L532 427.5 Q530.5 418 532.7 408.7 Z" fill="#fff" stroke="#111" stroke-width="1.7" stroke-linejoin="round" stroke-linecap="round" />
<path d="M533.5 409.5 L543.5 412.3 L543.5 419 L539.5 422.5 Q533 418 533.5 409.5 Z" fill="#666" stroke="none" stroke-width="0" stroke-linejoin="round" stroke-linecap="round" />
<path d="M543.5 412.3 L543.5 419.5 L577 428.5 M543.5 419.5 L533 426.5 M540 425.3 L576 435" fill="none" stroke="#111" stroke-width="1.1" stroke-linejoin="round" stroke-linecap="round" />
<path d="M534.7 405.3 L581.3 413.3" fill="none" stroke="#111" stroke-width="1.1" stroke-linejoin="round" stroke-linecap="round" />
<ellipse cx="518.7" cy="414" rx="7.6" ry="8.3" fill="#fff" stroke="#111" stroke-width="2.0160000000000005" transform="rotate(-10 518.7 414)" />
<ellipse cx="587.1" cy="433.6" rx="7.8" ry="8.3" fill="#fff" stroke="#111" stroke-width="2.0160000000000005" transform="rotate(-10 587.1 433.6)" />
<ellipse cx="500" cy="407" rx="7.5" ry="7.8" fill="#fff" stroke="#777" stroke-width="2.5" transform="rotate(-20 500 407)" stroke-dasharray="1.2 0.8"/>
<ellipse cx="500" cy="407" rx="8.5" ry="8.8" fill="none" stroke="#111" stroke-width="1.2" transform="rotate(-20 500 407)" />
<ellipse cx="498.5" cy="408.5" rx="4.8" ry="5" fill="#fff" stroke="#111" stroke-width="1.6" transform="rotate(-20 498.5 408.5)" />
<path d="M582.2 411.6 L616.5 399.3 L622.6 401.8 L625 410.3 L621.3 421.3 L617 425 L600 425 Z" fill="#fff" stroke="#111" stroke-width="2.0160000000000005" stroke-linejoin="round" stroke-linecap="round" />
<ellipse cx="617" cy="406.7" rx="1.8" ry="1.8" fill="#fff" stroke="#111" stroke-width="1.1" />
<path d="M603 428 L616.6 424.5 L622 418.5 L627.5 416.1 L632.3 419.7 L635.3 428.1 L634.7 435.4 L629.9 445 L622.6 449.9 L611.8 451.1 L603.3 447.5 Z" fill="#fff" stroke="#111" stroke-width="2.24" stroke-linejoin="round" stroke-linecap="round" />
<path d="M618 425 L627.5 420 M628 421 L631 438 Q630 446 622 450" fill="none" stroke="#111" stroke-width="1" stroke-linejoin="round" stroke-linecap="round" />
<ellipse cx="609.1" cy="439.7" rx="7.5" ry="8" fill="#fff" stroke="#777" stroke-width="2.5" transform="rotate(-20 609.1 439.7)" stroke-dasharray="1.2 0.8"/>
<ellipse cx="609.1" cy="439.7" rx="8.5" ry="9" fill="none" stroke="#111" stroke-width="1.2" transform="rotate(-20 609.1 439.7)" />
<ellipse cx="607.5" cy="441.2" rx="4.8" ry="5.2" fill="#fff" stroke="#111" stroke-width="1.6" transform="rotate(-20 607.5 441.2)" />
<polygon points="459.6,387.6 463.1,384.6 469,381.2 474.9,384.6 474.9,391.4 471.4,394.4 465.5,397.8 459.6,394.4" fill="#fff" stroke="#111" stroke-width="1.6" stroke-linejoin="round"/>
<polygon points="471.4,394.4 465.5,397.8 459.6,394.4 459.6,387.6 465.5,384.2 471.4,387.6" fill="#fff" stroke="#111" stroke-width="1.6" stroke-linejoin="round"/>
<ellipse cx="465.5" cy="391" rx="5.3" ry="5.3" fill="none" stroke="#444" stroke-width="0.9" />
<ellipse cx="465.5" cy="391" rx="3.1" ry="3.1" fill="#bbb" stroke="#222" stroke-width="1.4" />
<path d="M809 377.5 L723 438" stroke="#111" stroke-width="12" stroke-linecap="butt"/>
<path d="M809 377.5 L723 438" stroke="#fff" stroke-width="8" stroke-linecap="butt"/>
<ellipse cx="723" cy="438" rx="3.5" ry="6.2" fill="#fff" stroke="#111" stroke-width="1.6" transform="rotate(-35 723 438)" />
<path d="M721 440 L712 446" stroke="#111" stroke-width="7.5" stroke-linecap="round"/>
<path d="M721 440 L712 446" stroke="#fff" stroke-width="4.5" stroke-linecap="round"/>
<path d="M719 441 L713 445" stroke="#888" stroke-width="3" stroke-dasharray="1 1"/>
<ellipse cx="815.5" cy="374" rx="7.5" ry="8.5" fill="#fff" stroke="#111" stroke-width="2.24" transform="rotate(-30 815.5 374)" />
<polygon points="816.4,383 819.4,381.5 811.6,366.5 808.6,368" fill="#fff" stroke="none"/>
<path d="M816.4 383 L819.4 381.5 M808.6 368 L811.6 366.5" stroke="#111" stroke-width="2.2" stroke-linecap="round"/>
<ellipse cx="812.5" cy="375.5" rx="7.5" ry="8.5" fill="#fff" stroke="#111" stroke-width="2.24" transform="rotate(-30 812.5 375.5)" />
<ellipse cx="810.5" cy="377" rx="5" ry="6.2" fill="none" stroke="#333" stroke-width="1" transform="rotate(-30 810.5 377)" />
<defs><pattern id="stip" width="5" height="5" patternUnits="userSpaceOnUse"><rect width="5" height="5" fill="#d6d6d6"/><rect x="0" y="0" width="1.2" height="1.2" fill="#666"/><rect x="2.5" y="2.5" width="1.2" height="1.2" fill="#777"/><rect x="3.5" y="0.5" width="1" height="1" fill="#999"/><rect x="1" y="3.5" width="1" height="1" fill="#999"/></pattern></defs>
<path d="M867.5 389.6 L873.6 391.4 L888.2 411.6 L895.6 410.3 L901.7 415.2 L901.7 423.8 L895.6 427.5 L889.4 453 L880.9 470.2 L856.5 471.5 L852.8 466.6 L824.7 460.5 L823.4 453.1 L830.8 416.5 Z" fill="#fff" stroke="#111" stroke-width="2.24" stroke-linejoin="round" stroke-linecap="round" />
<path d="M863.8 423.8 L882.1 412.8 L889.5 421.3 L888.2 454.4 L880.9 470.2 L868.7 470.2 L860 458 Z" fill="url(#stip)" stroke="none" stroke-width="0" stroke-linejoin="round" stroke-linecap="round" />
<path d="M845.5 412.8 L869.9 394.4 L880.9 411.6 L867.5 422.6 Z" fill="#fff" stroke="#111" stroke-width="1.5" stroke-linejoin="round" stroke-linecap="round" />
<path d="M856 410 L870 400 L878 410.5 L866 419 Z" fill="none" stroke="#333" stroke-width="1" stroke-linejoin="round" stroke-linecap="round" />
<path d="M835.7 420.1 L861.3 428.7 L858.9 448.2 L830.8 443.3 Z" fill="#fff" stroke="#111" stroke-width="1.5" stroke-linejoin="round" stroke-linecap="round" />
<path d="M839 425 L857 431 L855.5 445 L834 441.5" fill="none" stroke="#333" stroke-width="1" stroke-linejoin="round" stroke-linecap="round" />
<path d="M830.8 416.5 L845.5 412.8 M867.5 422.6 L863.8 423.8 L861.3 428.7 M858.9 448.2 L857 458 M824 452 L836 445" fill="none" stroke="#111" stroke-width="1.3" stroke-linejoin="round" stroke-linecap="round" />
<ellipse cx="877.8" cy="444" rx="4" ry="6" fill="#444" stroke="#222" stroke-width="1" transform="rotate(15 877.8 444)" />
<ellipse cx="897.4" cy="419.5" rx="2.5" ry="3.2" fill="#fff" stroke="#111" stroke-width="1.3" />
<ellipse cx="852.2" cy="458" rx="2.5" ry="3.2" fill="#fff" stroke="#111" stroke-width="1.3" />
<ellipse cx="839.3" cy="430.5" rx="1.5" ry="2.5" fill="#fff" stroke="#111" stroke-width="1.1" />
<path d="M854 465.4 L860.1 458 L868.7 467.8 L856.5 471.5 Z" fill="#555" stroke="none" stroke-width="0" stroke-linejoin="round" stroke-linecap="round" />
<path d="M888.2 411.6 L889.4 453" fill="none" stroke="#111" stroke-width="1.5" stroke-linejoin="round" stroke-linecap="round" />
<path d="M897 441 L911 443.8" stroke="#111" stroke-width="7.5" stroke-linecap="round"/>
<path d="M897 441 L911 443.8" stroke="#fff" stroke-width="4.5" stroke-linecap="round"/>
<path d="M898 441.3 L907 443" stroke="#444" stroke-width="4" stroke-dasharray="1 0.8"/>
<polygon points="909.3,441.2 915.2,437.8 918.2,437.8 924.1,441.2 924.1,448 918.2,451.4 915.2,451.4 909.3,448" fill="#fff" stroke="#111" stroke-width="1.6" stroke-linejoin="round"/>
<polygon points="924.1,448 918.2,451.4 912.3,448 912.3,441.2 918.2,437.8 924.1,441.2" fill="#fff" stroke="#111" stroke-width="1.6" stroke-linejoin="round"/>
<path d="M872 461.5 L914 468.5" stroke="#111" stroke-width="8.5" stroke-linecap="round"/>
<path d="M872 461.5 L914 468.5" stroke="#fff" stroke-width="5.5" stroke-linecap="round"/>
<path d="M878 462.5 L891 464.7" stroke="#444" stroke-width="4.5" stroke-dasharray="1 0.8"/>
<polygon points="912.1,466.2 919,462.2 922.5,462.2 929.4,466.2 929.4,474.2 922.5,478.2 919,478.2 912.1,474.2" fill="#fff" stroke="#111" stroke-width="1.6" stroke-linejoin="round"/>
<polygon points="929.4,474.2 922.5,478.2 915.6,474.2 915.6,466.2 922.5,462.2 929.4,466.2" fill="#fff" stroke="#111" stroke-width="1.6" stroke-linejoin="round"/>
<path d="M453.1 101.7 L454.8 101.7 L454.8 114.5 L453.1 114.5 L453.1 105.3 Q451.9 106.1 449.4 106.2 L449.4 104.7 Q452.2 104.3 453.1 101.7 Z" fill="#000"/>
<text x="458.3" y="114.5">4</text>
<path d="M506.2 103.2 L507.9 103.2 L507.9 116 L506.2 116 L506.2 106.8 Q505 107.6 502.5 107.7 L502.5 106.2 Q505.3 105.8 506.2 103.2 Z" fill="#000"/>
<text x="511.4" y="116">3</text>
<path d="M304.1 155 L305.8 155 L305.8 167.8 L304.1 167.8 L304.1 158.6 Q302.9 159.4 300.4 159.5 L300.4 158 Q303.2 157.6 304.1 155 Z" fill="#000"/>
<text x="309.3" y="167.8">6</text>
<path d="M300.3 191.7 L302 191.7 L302 204.5 L300.3 204.5 L300.3 195.3 Q299.1 196.1 296.6 196.2 L296.6 194.7 Q299.4 194.3 300.3 191.7 Z" fill="#000"/>
<text x="305.5" y="204.5">5</text>
<path d="M351 307.7 L352.7 307.7 L352.7 320.5 L351 320.5 L351 311.3 Q349.8 312.1 347.3 312.2 L347.3 310.7 Q350.1 310.3 351 307.7 Z" fill="#000"/>
<text x="356.2" y="320.5">8</text>
<text x="488.9" y="313.9">7</text>
<path d="M572.4 305.5 L574.1 305.5 L574.1 318.3 L572.4 318.3 L572.4 309.1 Q571.2 309.9 568.7 310 L568.7 308.5 Q571.5 308.1 572.4 305.5 Z" fill="#000"/>
<path d="M582.6 305.5 L584.4 305.5 L584.4 318.3 L582.6 318.3 L582.6 309.1 Q581.4 309.9 578.9 310 L578.9 308.5 Q581.7 308.1 582.6 305.5 Z" fill="#000"/>
<path d="M661.6 320.3 L663.3 320.3 L663.3 333.1 L661.6 333.1 L661.6 323.9 Q660.4 324.7 657.9 324.8 L657.9 323.3 Q660.7 322.9 661.6 320.3 Z" fill="#000"/>
<text x="666.8" y="333.1">2</text>
<text x="436" y="331">6</text>
<text x="707.3" y="350.7">5</text>
<text x="752" y="353.7">2</text>
<text x="863.3" y="351.5">2</text>
<text x="873.5" y="351.5">3</text>
<text x="899.2" y="393.7">2</text>
<text x="909.4" y="393.7">5</text>
<text x="413.9" y="375.6">8</text>
<path d="M410.5 399.9 L412.2 399.9 L412.2 412.7 L410.5 412.7 L410.5 403.5 Q409.3 404.3 406.8 404.4 L406.8 402.9 Q409.6 402.5 410.5 399.9 Z" fill="#000"/>
<text x="415.7" y="412.7">0</text>
<text x="408.6" y="441.7">9</text>
<path d="M349.7 414.4 L351.4 414.4 L351.4 427.2 L349.7 427.2 L349.7 418 Q348.5 418.8 346 418.9 L346 417.4 Q348.8 417 349.7 414.4 Z" fill="#000"/>
<text x="354.9" y="427.2">7</text>
<text x="281" y="484.3">2</text>
<text x="291.2" y="484.3">0</text>
<text x="277.8" y="576.1">2</text>
<path d="M293 563.3 L294.8 563.3 L294.8 576.1 L293 576.1 L293 566.9 Q291.8 567.7 289.3 567.8 L289.3 566.3 Q292.1 565.9 293 563.3 Z" fill="#000"/>
<text x="875.6" y="527.4">2</text>
<text x="885.8" y="527.4">4</text>
<text x="602.4" y="605.5">3</text>
<path d="M696.4 584.7 L698.1 584.7 L698.1 597.5 L696.4 597.5 L696.4 588.3 Q695.2 589.1 692.7 589.2 L692.7 587.7 Q695.5 587.3 696.4 584.7 Z" fill="#000"/>
<text x="478" y="649.9">2</text>
<text x="488.2" y="649.9">2</text>
<text x="443.6" y="668.9">4</text>
<path d="M398.3 651.3 L400 651.3 L400 664.1 L398.3 664.1 L398.3 654.9 Q397.1 655.7 394.6 655.8 L394.6 654.3 Q397.4 653.9 398.3 651.3 Z" fill="#000"/>
<text x="403.5" y="664.1">9</text>
</svg>
</body></html>
